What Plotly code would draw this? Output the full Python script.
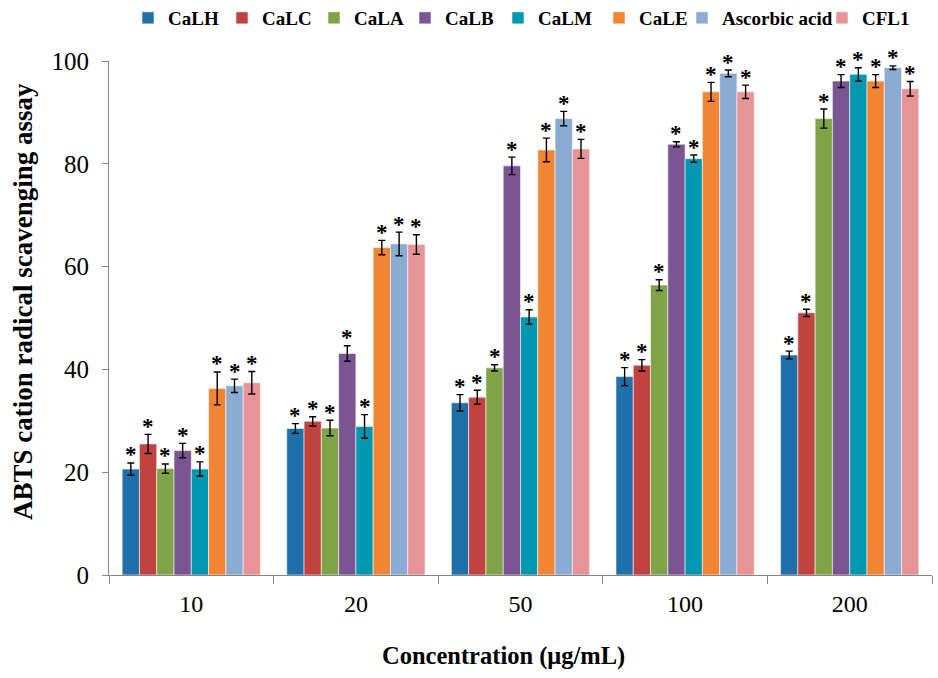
import numpy as np
import plotly.graph_objects as go

# Concentrations (µg/mL) shown as categories
concentrations = ["10", "20", "50", "100", "200"]

# Extract / standard names
series_names = ["CaLH", "CaLC", "CaLA", "CaLB", "CaLM", "CaLE", "Ascorbic acid", "CFL1"]

# ABTS cation radical scavenging (%) per series, one value per concentration
calh = [20.6, 28.5, 33.5, 38.6, 42.8]
calc = [25.5, 29.9, 34.6, 40.8, 51.0]
cala = [20.7, 28.6, 40.3, 56.4, 88.8]
calb = [24.2, 43.1, 79.6, 83.8, 96.1]
calm = [20.6, 28.9, 50.2, 81.0, 97.4]
cale = [36.3, 63.7, 82.7, 94.0, 96.1]
ascorbic = [36.8, 64.4, 88.8, 97.6, 98.7]
cfl1 = [37.4, 64.3, 82.9, 94.0, 94.6]

# Standard deviations
calh_sd = [1.2, 0.95, 1.6, 1.75, 0.75]
calc_sd = [1.85, 0.9, 1.35, 1.1, 0.7]
cala_sd = [0.9, 1.5, 0.6, 1.05, 1.85]
calb_sd = [1.4, 1.5, 1.7, 0.5, 1.25]
calm_sd = [1.4, 2.3, 1.4, 0.7, 1.3]
cale_sd = [3.2, 1.4, 2.3, 1.85, 1.25]
ascorbic_sd = [1.3, 2.3, 1.4, 0.65, 0.35]
cfl1_sd = [2.2, 1.9, 1.85, 1.3, 1.4]

colors = ["#1F6FAA", "#C1433F", "#7EA447", "#7B5592", "#0098B0",
          "#F28534", "#8AABD2", "#E69496"]

values = [calh, calc, cala, calb, calm, cale, ascorbic, cfl1]
errors = [calh_sd, calc_sd, cala_sd, calb_sd, calm_sd, cale_sd, ascorbic_sd, cfl1_sd]

serif = "Liberation Serif, Times New Roman, serif"

W, H = 938, 678
M_L, M_R, M_T, M_B = 109, 6, 61, 103
plot_w = W - M_L - M_R
plot_h = H - M_T - M_B

# left edge (px) of each legend entry along the top row
legend_left_px = [128, 222, 314, 405, 498, 599, 682, 822]

n_series = len(series_names)
group_gap = 0.16
bar_w = (1 - group_gap) / n_series
centers = np.arange(len(concentrations))

fig = go.Figure()

legend_layouts = {}
for k, (name, vals, errs, col) in enumerate(zip(series_names, values, errors, colors)):
    leg_id = "legend" if k == 0 else f"legend{k + 1}"
    legend_layouts[leg_id] = dict(
        orientation="h", xanchor="left", yanchor="middle",
        x=(legend_left_px[k] - M_L) / plot_w, y=1 + (M_T - 18) / plot_h,
        font=dict(family=serif, size=19, color="black", weight="bold"),
        bgcolor="rgba(0,0,0,0)", itemwidth=30,
    )
    xs = centers - (1 - group_gap) / 2 + bar_w * (k + 0.5)
    fig.add_trace(go.Bar(
        x=xs, y=vals, width=bar_w, name=name, legend=leg_id,
        marker=dict(color=col, line=dict(color="rgba(255,255,255,0.55)", width=1)),
        error_y=dict(type="data", array=errs, visible=True,
                     color="black", thickness=1.4, width=3.5),
    ))
    # significance asterisks just above each error bar
    for x_i, top in zip(xs, np.array(vals) + np.array(errs)):
        fig.add_annotation(
            x=x_i, y=top, text="*", showarrow=False,
            xanchor="center", yanchor="middle", yshift=8,
            font=dict(family=serif, size=23, color="black", weight="bold"),
        )

fig.update_layout(
    width=W, height=H,
    margin=dict(l=M_L, r=M_R, t=M_T, b=M_B, autoexpand=False),
    paper_bgcolor="white", plot_bgcolor="white",
    barmode="overlay",
    font=dict(family=serif, color="black"),
    showlegend=True,
    **legend_layouts,
)

fig.update_xaxes(
    range=[-0.5, len(concentrations) - 0.5],
    tickvals=centers, ticktext=concentrations,
    ticks="", ticklabelstandoff=7,
    tickfont=dict(family=serif, size=24, color="black"),
    showline=True, linecolor="#868686", linewidth=1,
    showgrid=False, zeroline=False,
    minor=dict(tick0=-0.5, dtick=1, ticks="outside", ticklen=8,
               tickcolor="#868686", tickwidth=1, showgrid=False),
)

fig.update_yaxes(
    range=[0, 100], tickvals=[0, 20, 40, 60, 80, 100],
    ticks="outside", ticklen=6, tickcolor="#868686", ticklabelstandoff=8,
    tickfont=dict(family=serif, size=25, color="black"),
    showline=True, linecolor="#868686", linewidth=1,
    showgrid=False, zeroline=False,
)

# axis titles
fig.add_annotation(
    text="<b>Concentration (μg/mL)</b>", xref="paper", yref="paper",
    x=(503 - M_L) / plot_w, y=-(656 - (M_T + plot_h)) / plot_h,
    xanchor="center", yanchor="middle", showarrow=False,
    font=dict(family=serif, size=24.5, color="black"),
)
fig.add_annotation(
    text="<b>ABTS cation radical scavenging assay</b>", xref="paper", yref="paper",
    x=-(M_L - 23) / plot_w, y=1 - (302 - M_T) / plot_h,
    xanchor="center", yanchor="middle", textangle=-90, showarrow=False,
    font=dict(family=serif, size=27, color="black"),
)

fig.write_html("out.html")
